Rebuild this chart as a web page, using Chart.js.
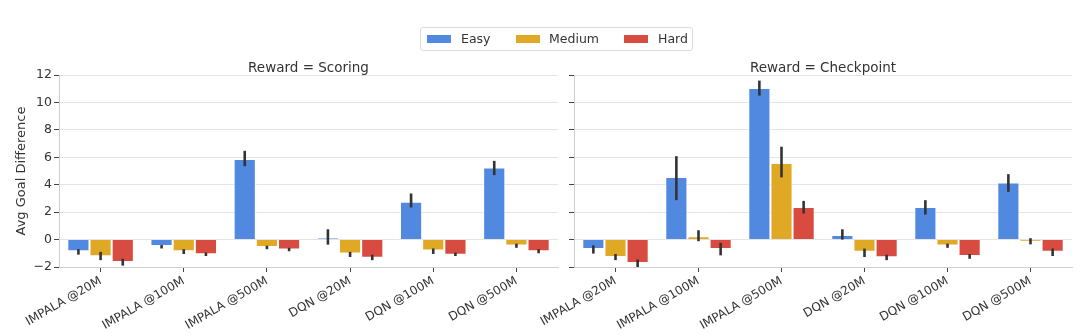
<!DOCTYPE html>
<html>
<head>
<meta charset="utf-8">
<script src="https://cdn.jsdelivr.net/npm/chart.js@4.4.0/dist/chart.umd.min.js"></script>
<style>
  body { margin: 0; background: #fff; }
  #wrap { position: relative; width: 1080px; height: 334px; overflow: hidden; font-family: 'DejaVu Sans', sans-serif; }
  #left { position: absolute; left: 0; top: 0; }
  #right { position: absolute; left: 480px; top: 0; }
  #legend { position: absolute; left: 420px; top: 27px; width: 271px; height: 22px;
            border: 1px solid #dcdcdc; border-radius: 3px; }
  .sw { position: absolute; top: 7px; width: 24px; height: 8px; }
  .lb { position: absolute; top: 3px; font-size: 12.5px; color: #333; }
</style>
</head>
<body>
<div id="wrap">
  <canvas id="left" width="562" height="334"></canvas>
  <canvas id="right" width="600" height="334"></canvas>
  <div id="legend">
    <div class="sw" style="left:6px;background:#5189e0"></div><div class="lb" style="left:40px">Easy</div>
    <div class="sw" style="left:95px;background:#e0a925"></div><div class="lb" style="left:128px">Medium</div>
    <div class="sw" style="left:203px;background:#d84b40"></div><div class="lb" style="left:237px">Hard</div>
  </div>
</div>
<script>
// values
const categories = ['IMPALA @20M', 'IMPALA @100M', 'IMPALA @500M', 'DQN @20M', 'DQN @100M', 'DQN @500M'];
const yTicks = [-2, 0, 2, 4, 6, 8, 10, 12];

const scoringEasy   = [-0.85, -0.47, 5.88, 0.12, 2.75, 5.25];
const scoringEasyLo = [-1.10, -0.65, 5.35, -0.37, 2.34, 4.70];
const scoringEasyHi = [-0.70, -0.40, 6.47, 0.75, 3.36, 5.74];
const scoringMed    = [-1.22, -0.85, -0.54, -1.02, -0.80, -0.44];
const scoringMedLo  = [-1.50, -1.05, -0.70, -1.27, -1.05, -0.60];
const scoringMedHi  = [-0.90, -0.70, -0.45, -0.90, -0.65, -0.30];
const scoringHard   = [-1.63, -1.07, -0.73, -1.32, -1.10, -0.85];
const scoringHardLo = [-1.90, -1.20, -0.85, -1.50, -1.20, -1.00];
const scoringHardHi = [-1.40, -0.95, -0.60, -1.10, -0.95, -0.70];

const checkpointEasy   = [-0.68, 4.56, 11.05, 0.34, 2.37, 4.16];
const checkpointEasyLo = [-1.02, 2.87, 10.50, 0.00, 1.82, 3.48];
const checkpointEasyHi = [-0.42, 6.08, 11.59, 0.75, 2.87, 4.77];
const checkpointMed    = [-1.27, 0.24, 5.58, -0.88, -0.44, -0.12];
const checkpointMedLo  = [-1.50, -0.12, 4.53, -1.27, -0.60, -0.35];
const checkpointMedHi  = [-1.05, 0.68, 6.77, -0.66, -0.30, 0.10];
const checkpointHard   = [-1.71, -0.68, 2.37, -1.29, -1.20, -0.88];
const checkpointHardLo = [-2.00, -1.15, 1.90, -1.50, -1.40, -1.20];
const checkpointHardHi = [-1.45, -0.24, 2.82, -1.10, -1.05, -0.65];

const COLORS = { easy: '#5189e0', medium: '#e0a925', hard: '#d84b40' };
const FONT = 'DejaVu Sans';

// vertical error lines through the y scale
const errorBars = {
  id: 'errorBars',
  afterDatasetsDraw(chart) {
    const ctx = chart.ctx, y = chart.scales.y;
    ctx.save();
    ctx.strokeStyle = '#333';
    ctx.lineWidth = 2.6;
    chart.data.datasets.forEach((ds, i) => {
      chart.getDatasetMeta(i).data.forEach((bar, j) => {
        ctx.beginPath();
        ctx.moveTo(bar.x, y.getPixelForValue(ds.errLo[j]));
        ctx.lineTo(bar.x, y.getPixelForValue(ds.errHi[j]));
        ctx.stroke();
      });
    });
    ctx.restore();
  }
};

// title centred over the plot area instead of the canvas
const panelTitle = {
  id: 'panelTitle',
  afterDraw(chart, args, opts) {
    const ctx = chart.ctx, a = chart.chartArea;
    ctx.save();
    ctx.font = '13.5px "' + FONT + '"';
    ctx.fillStyle = '#333';
    ctx.textAlign = 'center';
    ctx.textBaseline = 'middle';
    ctx.fillText(opts.text, (a.left + a.right) / 2, 68);
    ctx.restore();
  }
};

function makeSet(label, data, lo, hi, color) {
  return {
    label: label, data: data, errLo: lo, errHi: hi,
    backgroundColor: color, borderColor: 'rgba(255,255,255,0.9)', borderWidth: 1,
    categoryPercentage: 0.8, barPercentage: 1
  };
}

function makeChart(id, title, sets, showY, yWidth, padRight) {
  return new Chart(document.getElementById(id), {
    type: 'bar',
    data: { labels: categories, datasets: sets },
    plugins: [errorBars, panelTitle],
    options: {
      responsive: false,
      animation: false,
      layout: { padding: { top: 75, right: padRight, left: 0, bottom: 0 } },
      plugins: {
        legend: { display: false },
        tooltip: { enabled: false },
        panelTitle: { text: title }
      },
      scales: {
        x: {
          grid: { display: true, drawOnChartArea: false, offset: false, tickLength: 5, tickColor: '#444', tickWidth: 1 },
          border: { color: '#cfcfcf' },
          ticks: { color: '#333', font: { family: FONT, size: 12 }, minRotation: 30, maxRotation: 30, padding: 2, autoSkip: false },
          afterFit(s) { s.height = 67; }
        },
        y: {
          min: -2, max: 12,
          afterBuildTicks(s) { s.ticks = yTicks.map(v => ({ value: v })); },
          grid: { color: '#e4e4e4', tickLength: 5, tickColor: '#444', tickWidth: 1 },
          border: { color: '#cfcfcf' },
          ticks: {
            display: showY, color: '#333', padding: 2,
            font: { family: FONT, size: 12.5 },
            callback: v => String(v).replace('-', '\u2212')
          },
          title: { display: showY, text: 'Avg Goal Difference', color: '#333', font: { family: FONT, size: 13 }, padding: { top: 14, bottom: 0 } },
          afterFit(s) { s.width = yWidth; }
        }
      }
    }
  });
}

makeChart('left', 'Reward = Scoring', [
  makeSet('Easy', scoringEasy, scoringEasyLo, scoringEasyHi, COLORS.easy),
  makeSet('Medium', scoringMed, scoringMedLo, scoringMedHi, COLORS.medium),
  makeSet('Hard', scoringHard, scoringHardLo, scoringHardHi, COLORS.hard)
], true, 59, 4);

makeChart('right', 'Reward = Checkpoint', [
  makeSet('Easy', checkpointEasy, checkpointEasyLo, checkpointEasyHi, COLORS.easy),
  makeSet('Medium', checkpointMed, checkpointMedLo, checkpointMedHi, COLORS.medium),
  makeSet('Hard', checkpointHard, checkpointHardLo, checkpointHardHi, COLORS.hard)
], false, 94, 8);
</script>
</body>
</html>
